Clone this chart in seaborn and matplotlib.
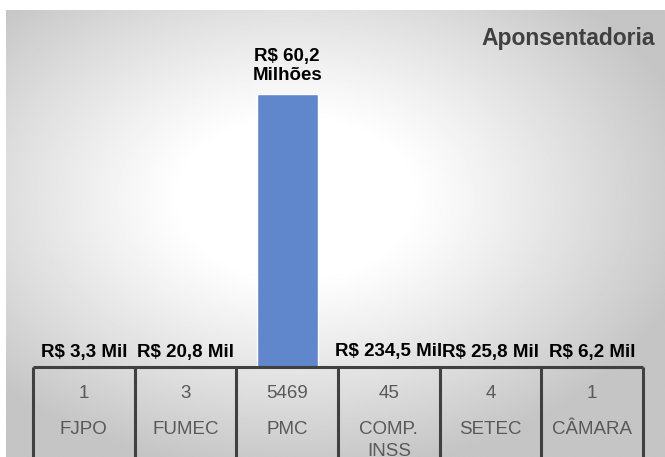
import numpy as np
import pandas as pd
import seaborn as sns
import matplotlib.pyplot as plt

# Dados (valores em milhões de R$)
orgaos = ["FJPO", "FUMEC", "PMC", "COMP.\nINSS", "SETEC", "CÂMARA"]
valores_milhoes = [0.0033, 0.0208, 60.2, 0.2345, 0.0258, 0.0062]
rotulos = ["R$ 3,3 Mil", "R$ 20,8 Mil", "R$ 60,2\nMilhões",
           "R$ 234,5 Mil", "R$ 25,8 Mil", "R$ 6,2 Mil"]
quantidades = [1, 3, 5469, 45, 4, 1]
titulo = "Aponsentadoria"

W, H = 665, 457
BAR_COLOR = "#6087cb"
LINE_COLOR = "#404040"
TXT_COLOR = "#595959"

sns.set_theme(style="white")
plt.rcParams['font.family'] = ['Liberation Sans', 'DejaVu Sans']

df = pd.DataFrame({"orgao": orgaos, "valor": valores_milhoes})

fig = plt.figure(figsize=(W / 100, H / 100), dpi=100, facecolor="white")

# Fundo com gradiente radial (branco no centro, cinza nas bordas)
bg = fig.add_axes([6 / W, 0, (W - 6) / W, (H - 10) / H])
yy, xx = np.mgrid[0:1:400j, 0:1:600j]
d = np.sqrt(((xx - 0.44) / 0.62) ** 2 + ((yy - 0.42) / 0.62) ** 2)
t = np.clip((d - 0.28) / 0.72, 0, 1) ** 1.1
grad = 1.0 - (1.0 - 0.77) * t
bg.imshow(grad, cmap="gray", vmin=0, vmax=1, aspect="auto",
          extent=[0, 1, 1, 0], interpolation="bilinear")
bg.axis("off")

# Eixo principal com as barras
ax_left = 33 / W
ax_w = 610 / W
ax_bottom = (H - 367) / H
ax_h = 337 / H
ax = fig.add_axes([ax_left, ax_bottom, ax_w, ax_h])
ax.patch.set_alpha(0)
sns.barplot(data=df, x="orgao", y="valor", color=BAR_COLOR, saturation=1,
            width=0.6, ax=ax)
ax.set_xlim(-0.5, 5.5)
ax.set_ylim(0, 60.2 * 337 / 273)

# rótulos: o maior fica um pouco mais afastado da barra
maior = int(np.argmax(valores_milhoes))
lab_small = [r if i != maior else "" for i, r in enumerate(rotulos)]
lab_big = [r if i == maior else "" for i, r in enumerate(rotulos)]
ax.bar_label(ax.containers[0], labels=lab_small, padding=4.3, fontsize=13.5,
             fontweight="bold", color="black")
ax.bar_label(ax.containers[0], labels=lab_big, padding=7, fontsize=13.5,
             fontweight="bold", color="black", linespacing=1.2)
ax.set_axis_off()

# Título
fig.text(655 / W, 1 - 38 / H, titulo, ha="right", va="center",
         fontsize=16.5, fontweight="bold", color=LINE_COLOR)

# Tabela inferior (quantidade e órgão)
tab = fig.add_axes([ax_left, 0, ax_w, ax_bottom])
tab.patch.set_alpha(0)
tab.set_xlim(-0.5, 5.5)
tab.set_ylim(90, 0)
tab.set_axis_off()
n = len(orgaos)
tab.hlines(0, -0.5, n - 0.5, color=LINE_COLOR, lw=2.2, clip_on=False)
tab.vlines(np.arange(n + 1) - 0.5, 0, 95, color=LINE_COLOR, lw=2.2,
           clip_on=False)
for i, (q, nome) in enumerate(zip(quantidades, orgaos)):
    tab.text(i, 26, str(q), ha="center", va="center", fontsize=13.5,
             color=TXT_COLOR)
    tab.text(i, 54, nome, ha="center", va="top", fontsize=13.5,
             color=TXT_COLOR, linespacing=1.35)

fig.savefig("out.png", dpi=100)
